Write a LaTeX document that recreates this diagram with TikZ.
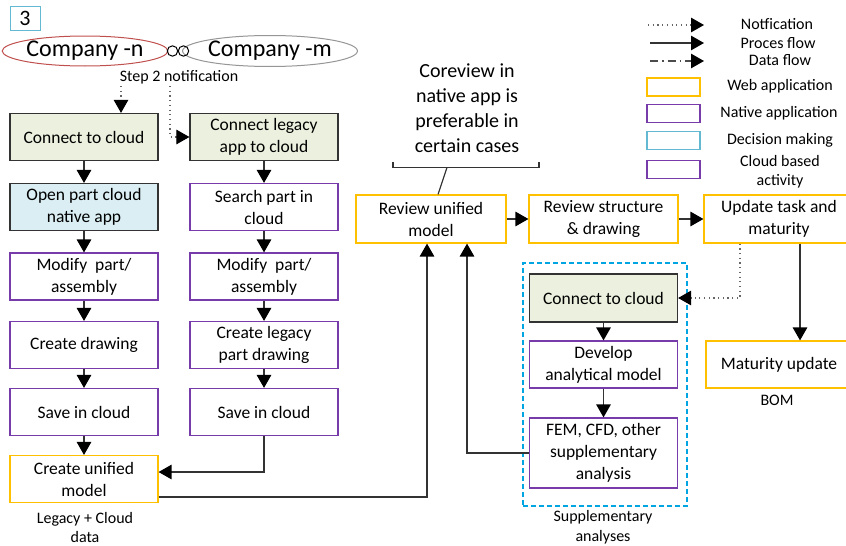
\documentclass[tikz,border=0pt]{standalone}
\usepackage{fontspec}
\setmainfont{Carlito}
\usetikzlibrary{arrows.meta,shapes.geometric,calc}
\definecolor{webc}{RGB}{255,192,0}
\definecolor{natc}{RGB}{120,60,170}
\definecolor{decc}{RGB}{100,185,210}
\definecolor{supc}{RGB}{0,165,225}
\definecolor{grnf}{RGB}{235,241,222}
\definecolor{bluf}{RGB}{218,238,243}
\definecolor{redc}{RGB}{192,80,77}
\definecolor{grayc}{RGB}{150,150,150}
\begin{document}
\begin{tikzpicture}[x=1pt,y=-1pt,
  boxfont/.style={font=\fontsize{17.5}{22}\selectfont},
  fbox/.style={draw, line width=1.2pt, minimum width=148pt, minimum height=47pt, align=center, inner sep=0pt, boxfont},
  web/.style={fbox, draw=webc},
  nat/.style={fbox, draw=natc},
  cloudc/.style={fbox, draw=black!80, fill=grnf},
  decision/.style={fbox, draw=black!80, fill=bluf},
  flow/.style={line width=1.3pt, draw=black!80, -{Triangle[length=13pt,width=14.5pt,color=black]}},
  notif/.style={line width=1.1pt, draw=black!60, dash pattern=on 1.2pt off 3.5pt, -{Triangle[length=13pt,width=14.5pt,color=black]}},
  leg/.style={draw, line width=1.2pt, minimum width=53pt, minimum height=18pt, inner sep=0pt},
  legtxt/.style={font=\fontsize{16}{19}\selectfont, align=center, inner sep=0pt},
  captxt/.style={font=\fontsize{16}{19.5}\selectfont, align=center, inner sep=0pt}]
\clip (0,0) rectangle (846,546);
\fill[white] (0,0) rectangle (846,546);

% step number
\node[draw=decc, line width=1pt, minimum width=30pt, minimum height=24pt, inner sep=0pt, font=\fontsize{22}{24}\selectfont] (num) at (25,18) {3};

% companies
\node[ellipse, draw=redc, line width=1pt, minimum width=160pt, minimum height=30pt, inner sep=0pt, font=\fontsize{24}{26}\selectfont] (cn) at (85,51) {Company -n};
\node[ellipse, draw=grayc, line width=1pt, minimum width=160pt, minimum height=31pt, inner sep=0pt, font=\fontsize{24}{26}\selectfont] (cm) at (270,51) {Company -m};
\draw[line width=1pt] (172.5,51) circle (5.2);
\draw[line width=1pt] (183.5,51) circle (5.2);
\node[captxt] (step) at (179,77) {Step 2 notification};

% left column
\node[cloudc] (L1) at (84,137) {Connect to cloud};
\node[decision] (L2) at (84,207) {Open part cloud\\native app};
\node[nat] (L3) at (84,276.5) {Modify\ \ part/\\assembly};
\node[nat] (L4) at (84,345) {Create drawing};
\node[nat] (L5) at (84,412) {Save in cloud};
\node[web] (L6) at (84,479) {Create unified\\model};
\node[captxt] (L6cap) at (85,527.5) {Legacy + Cloud\\data};

% right column
\node[cloudc] (R1) at (264,137) {Connect legacy\\app to cloud};
\node[nat] (R2) at (264,207) {Search part in\\cloud};
\node[nat] (R3) at (264,276.5) {Modify\ \ part/\\assembly};
\node[nat] (R4) at (264,345) {Create legacy\\part drawing};
\node[nat] (R5) at (264,412) {Save in cloud};

% middle / right
\node[web, minimum width=150pt, minimum height=48pt] (RU) at (431,219) {Review unified\\model};
\node[web, minimum width=149pt, minimum height=48pt] (RS) at (603.5,219) {Review structure\\\& drawing};
\node[web, minimum width=150pt, minimum height=48pt] (UT) at (779,219) {Update task and\\maturity};
\node[web, minimum width=146pt] (MU) at (779,364.5) {Maturity update};
\node[captxt] (bom) at (777,400) {BOM};

% supplementary group
\node[draw=supc, dash pattern=on 5pt off 3pt, line width=1.2pt, minimum width=164pt, minimum height=243pt, inner sep=0pt] (grp) at (605,384.5) {};
\node[cloudc, minimum height=48pt] (SC) at (603.5,298) {Connect to cloud};
\node[nat] (DA) at (603.5,364.5) {Develop\\analytical model};
\node[nat, minimum height=70pt] (FEM) at (603.5,453) {FEM, CFD, other\\supplementary\\analysis};
\node[captxt] (grpcap) at (603,527) {Supplementary\\analyses};

% coreview note
\node[font=\fontsize{20}{25}\selectfont, align=center, inner sep=0pt] (core) at (467,108) {Coreview in\\native app is\\preferable in\\certain cases};
\coordinate (b1) at (393,162);
\coordinate (b2) at (539,162);
\coordinate (bm) at (447,167.5);
\draw[line width=1.2pt, black!80] (b1) -- (b1 |- bm) -- (b2 |- bm) -- (b2);
\draw[line width=1.2pt, black!80] (bm) -- ([xshift=7pt]RU.north);

% notifications
\coordinate (n1) at (121,86);
\coordinate (n2) at (170,86);
\draw[notif] (n1) -- (n1 |- L1.north);
\draw[notif] (n2) |- (R1.west);
\draw[notif] ([xshift=-39pt]UT.south) |- (SC.east);

% process flows
\draw[flow] (L1) -- (L2);
\draw[flow] (L2) -- (L3);
\draw[flow] (L3) -- (L4);
\draw[flow] (L4) -- (L5);
\draw[flow] (L5) -- (L6);
\draw[flow] (R1) -- (R2);
\draw[flow] (R2) -- (R3);
\draw[flow] (R3) -- (R4);
\draw[flow] (R4) -- (R5);
\draw[flow] (R5.south) |- ([yshift=7pt]L6.east);
\draw[flow] ([yshift=-18pt]L6.east) -| ([xshift=-4pt]RU.south);
\draw[flow] (FEM.west) -| ([xshift=36pt]RU.south);
\draw[flow] (RU) -- (RS);
\draw[flow] (RS) -- (UT);
\draw[flow] (SC) -- (DA);
\draw[flow] (DA) -- (FEM);
\draw[flow] ([xshift=21pt]UT.south) -- ([xshift=21pt]UT.south |- MU.north);

% legend
\coordinate (la1) at (648,25); \coordinate (la2) at (704,25);
\coordinate (lb1) at (650,43); \coordinate (lb2) at (704,43);
\coordinate (lc1) at (650,61); \coordinate (lc2) at (704,61);
\draw[notif] (la1) -- (la2);
\draw[flow] (lb1) -- (lb2);
\draw[line width=1.3pt, draw=black!70, dash pattern=on 8pt off 4pt on 1.5pt off 4pt, -{Triangle[length=13pt,width=14.5pt,color=black]}] (lc1) -- (lc2);
\node[legtxt] (t1) at (777,24) {Notfication};
\node[legtxt] (t2) at (778,43) {Proces flow};
\node[legtxt] (t3) at (780,60) {Data flow};
\node[leg, draw=webc] (g1) at (673.5,87) {};
\node[leg, draw=natc] (g2) at (673.5,113.5) {};
\node[leg, draw=decc] (g3) at (673.5,140.5) {};
\node[leg, draw=natc] (g4) at (673.5,169.5) {};
\node[legtxt] (t4) at (780,86) {Web application};
\node[legtxt] (t5) at (779,113) {Native application};
\node[legtxt] (t6) at (780,140) {Decision making};
\node[legtxt] (t7) at (780,172) {Cloud based\\activity};
\end{tikzpicture}
\end{document}
